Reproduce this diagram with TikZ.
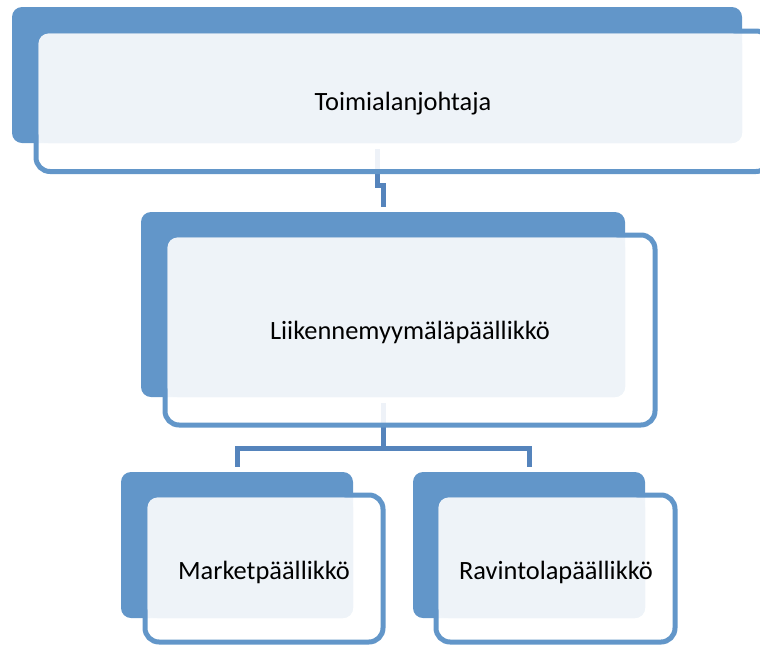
\documentclass[tikz,border=0pt]{standalone}
\usepackage{fontspec}
\setmainfont{Carlito}
\usetikzlibrary{calc,backgrounds}
\definecolor{accent}{HTML}{6296C9}
\definecolor{linkblue}{HTML}{5584BC}
\definecolor{paneltint}{HTML}{EEF3F8}
\tikzset{
  backcard/.style={draw=none, fill=accent, rounded corners=10pt, inner sep=0pt, outer sep=0pt},
  frontcard/.style={draw=accent, line width=5pt, fill=white, fill opacity=0.9,
                    rounded corners=14pt, inner sep=0pt, outer sep=0pt},
  tint/.style={fill=paneltint, rounded corners=10pt},
  title/.style={font=\fontsize{26.4}{30}\selectfont, text height=17pt, text depth=0pt,
                inner sep=0pt, text=black},
  link/.style={draw=linkblue, line width=5pt}
}
\begin{document}
\begin{tikzpicture}[x=1pt, y=-1pt]
  \clip (0,0) rectangle (760,646);

  % Toimialanjohtaja
  \node[backcard, minimum width=730pt, minimum height=136pt] (b1) at (377,75) {};
  \node[frontcard, minimum width=734pt, minimum height=140.5pt] (f1) at (403,101.25) {};
  \fill[tint] ($(f1.north west)+(2.5,2.5)$) rectangle (b1.south east);
  \node[title] (t1) at (403,101.5) {Toimialanjohtaja};

  % Liikennemyymäläpäällikkö
  \node[backcard, minimum width=484pt, minimum height=185pt] (b2) at (383,304.5) {};
  \node[frontcard, minimum width=490pt, minimum height=190pt] (f2) at (410,330) {};
  \fill[tint] ($(f2.north west)+(2.5,2.5)$) rectangle (b2.south east);
  \node[title] (t2) at (410,331) {Liikennemyymäläpäällikkö};

  % Marketpäällikkö
  \node[backcard, minimum width=232pt, minimum height=146pt] (b3) at (237,545) {};
  \node[frontcard, minimum width=238pt, minimum height=147pt] (f3) at (264,568.5) {};
  \fill[tint] ($(f3.north west)+(2.5,2.5)$) rectangle (b3.south east);
  \node[title] (t3) at (264,571) {Marketpäällikkö};

  % Ravintolapäällikkö
  \node[backcard, minimum width=232pt, minimum height=146pt] (b4) at (529,545) {};
  \node[frontcard, minimum width=239pt, minimum height=147pt] (f4) at (555.5,568.5) {};
  \fill[tint] ($(f4.north west)+(2.5,2.5)$) rectangle (b4.south east);
  \node[title] (t4) at (556,571) {Ravintolapäällikkö};

  % connectors, behind the cards
  \coordinate (hub) at (383,448);
  \begin{scope}[on background layer]
    \draw[link, shorten <=6pt, shorten >=5pt] (b1.south) -- ++(0,42) -| (b2.north);
    \draw[link, shorten <=6pt] (b2.south) -- (hub);
    \draw[link, shorten >=5pt] (hub) -| (b3.north);
    \draw[link, shorten >=5pt] (hub) -| (b4.north);
  \end{scope}
\end{tikzpicture}
\end{document}
